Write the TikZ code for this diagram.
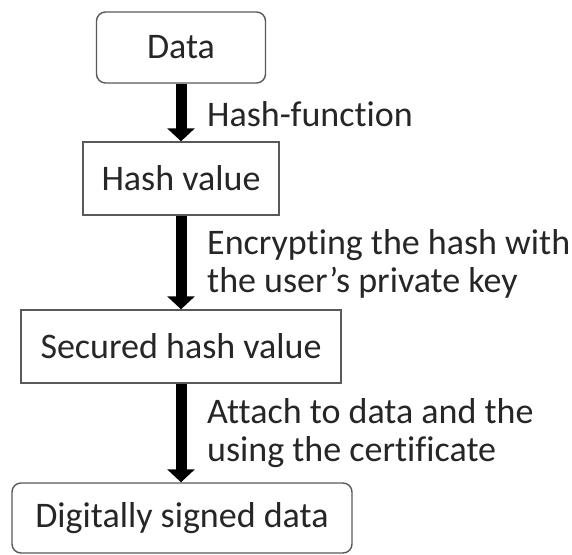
\documentclass[tikz,border=0pt]{standalone}
\usepackage{fontspec}
\setmainfont{Carlito}[Ligatures=NoCommon]
\usepackage{tikz}
\usetikzlibrary{
    arrows.meta,    % 箭头样式
    calc            % 坐标计算
}

\begin{document}
\begin{tikzpicture}[
    x=1pt, y=-1pt,
    box/.style={draw=black!65, line width=1.4pt, inner sep=0pt,
        text=black!85, font=\fontsize{36}{44}\selectfont},
    roundbox/.style={box, rounded corners=9pt},
    flow/.style={line width=11pt, -{Triangle[width=27pt,length=13pt]}},
    note/.style={anchor=west, align=left, inner sep=0pt, text=black!85,
        font=\fontsize{36}{38}\selectfont}
]
    \useasboundingbox (0,0) rectangle (572,554);

    % 四个方框
    \node[roundbox, minimum width=169pt, minimum height=71pt] (data) at (181,47.5) {Data};
    \node[box, minimum width=196pt, minimum height=73pt] (hashval) at (181,178.5) {Hash value};
    \node[box, minimum width=320pt, minimum height=73pt] (secured) at (181,346.5) {Secured hash value};
    \node[roundbox, minimum width=340pt, minimum height=70pt] (signed) at (182,518) {Digitally signed data};

    % 粗箭头
    \draw[flow] (data.south -| hashval.north) -- (hashval.north);
    \draw[flow] (hashval.south) -- (secured.north -| hashval.south);
    \draw[flow] (secured.south) -- (signed.north -| secured.south);

    % 箭头旁的说明
    \node[note] (hashfn) at (207,114) {Hash-function};
    \node[note] (encrypt) at (207,264) {Encrypting the hash with\\the user’s private key};
    \node[note] (attach) at (207,433) {Attach to data and the\\using the certificate};
\end{tikzpicture}
\end{document}
